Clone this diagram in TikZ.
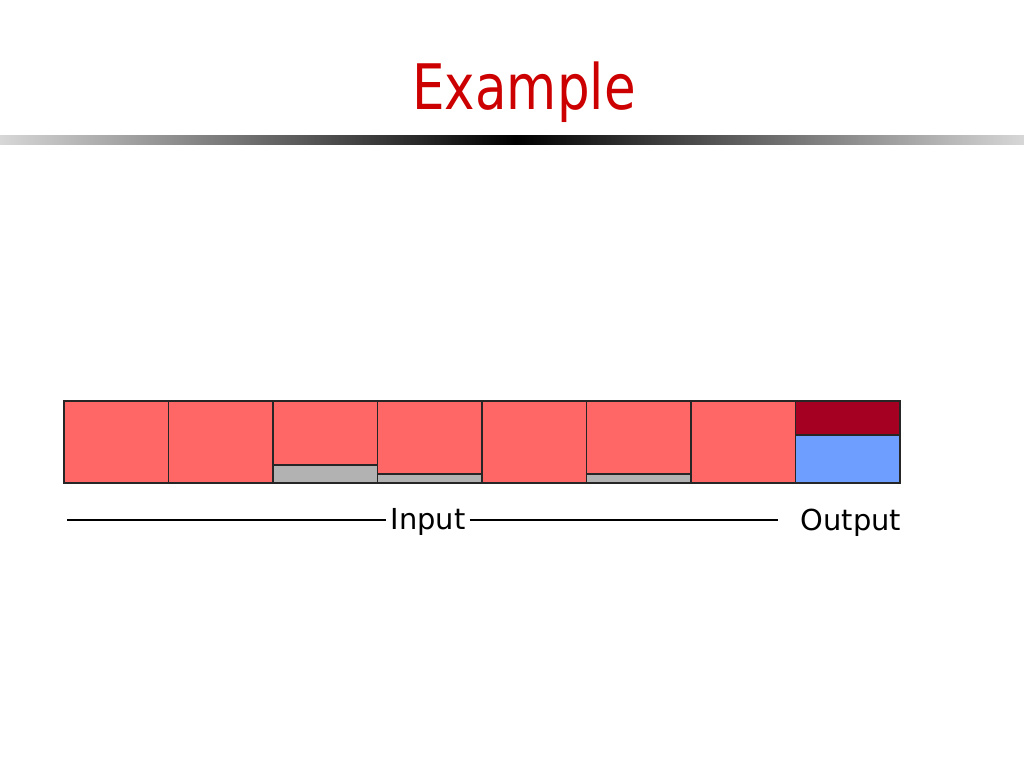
\documentclass[tikz,border=0pt]{standalone}
\usepackage{fontspec}
\setmainfont{DejaVu Sans}
\newfontfamily\headfont{DejaVu Sans}[FakeStretch=0.82]
\definecolor{headred}{RGB}{204,0,0}
\definecolor{cellred}{RGB}{255,102,102}
\definecolor{slackgray}{RGB}{178,178,178}
\definecolor{outtop}{RGB}{165,0,33}
\definecolor{outblue}{RGB}{110,158,255}
\definecolor{barlight}{RGB}{215,215,215}
\tikzset{
  cell/.style={draw=black!85,fill=cellred,line width=1.2bp,
    minimum width=104.5bp,minimum height=82bp,inner sep=0,outer sep=0},
  slack/.style={draw=black!85,fill=slackgray,line width=1.2bp},
  lbl/.style={font=\fontsize{29}{34}\selectfont,inner sep=0},
  rule/.style={line width=2.4bp}
}
\begin{document}
\begin{tikzpicture}[x=1bp,y=-1bp]
\useasboundingbox (0,0) rectangle (1024,768);
% title and bar
\node[text=headred,font=\headfont\fontsize{63}{72}\selectfont,anchor=base] (title) at (524,109) {Example};
\shade[left color=barlight,right color=black] (0,135) rectangle (516,144);
\shade[left color=black,right color=barlight] (516,135) rectangle (1024,144);
% the cells
\foreach \i in {1,...,7}
  \node[cell] (c\i) at ({64+(\i-0.5)*104.5},442) {};
\draw[slack] (c3.south west) rectangle ([yshift=18bp]c3.south east);
\draw[slack] (c4.south west) rectangle ([yshift=9bp]c4.south east);
\draw[slack] (c6.south west) rectangle ([yshift=9bp]c6.south east);
\node[cell,fill=outblue] (out) at ({64+7.5*104.5},442) {};
\draw[draw=black!85,fill=outtop,line width=1.2bp] (out.north west) rectangle ([yshift=-34bp]out.north east);
% labels
\node[lbl,anchor=base,inner xsep=4bp] (in) at (428,529) {Input};
\node[lbl,anchor=base] (outlbl) at (851,530) {Output};
\coordinate (lstart) at (67,520);
\coordinate (lend) at (778,520);
\draw[rule] (lstart) -- (lstart -| in.west);
\draw[rule] (lend -| in.east) -- (lend);
\end{tikzpicture}
\end{document}
